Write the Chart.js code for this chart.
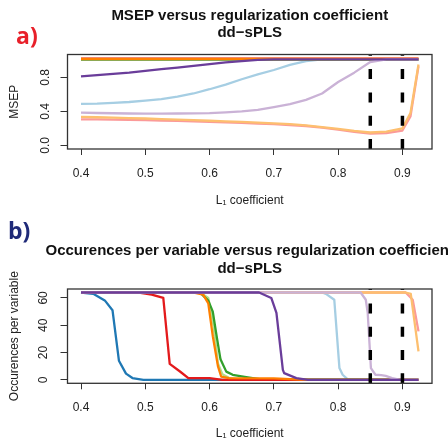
<!DOCTYPE html>
<html>
<head>
<meta charset="utf-8">
<script src="https://cdn.jsdelivr.net/npm/chart.js@4.4.0/dist/chart.umd.min.js"></script>
<style>
html, body { margin: 0; padding: 0; background: #fff; width: 448px; height: 439px; overflow: hidden; }
canvas { position: absolute; left: 0; }
#msepChart { top: 0; }
#occChart { top: 210px; }
</style>
</head>
<body>
<canvas id="msepChart" width="448" height="210"></canvas>
<canvas id="occChart" width="448" height="239"></canvas>
<script>
// ===== Data =====

var xTicks = [0.4, 0.5, 0.6, 0.7, 0.8, 0.9];
var cutoffs = [0.85, 0.9];

var msepTicks = [0, 0.2, 0.4, 0.6, 0.8, 1.0];
var msepTickLabels = ['0.0', '', '0.4', '', '0.8', ''];
var occTicks = [0, 10, 20, 30, 40, 50, 60];
var occTickLabels = ['0', '', '20', '', '40', '', '60'];

// MSEP panel: one shared x grid
var msepX = [0.4, 0.425, 0.45, 0.475, 0.5, 0.525, 0.55, 0.575, 0.6, 0.625, 0.65, 0.675, 0.7, 0.725, 0.75, 0.775, 0.8, 0.825, 0.85, 0.875, 0.9, 0.9125, 0.925];
var msepLightBlue   = [0.487, 0.49, 0.499, 0.51, 0.526, 0.545, 0.573, 0.61, 0.66, 0.715, 0.777, 0.835, 0.886, 0.945, 0.99, 1.01, 1.01, 1.01, 1.01, 1.01, 1.01, 1.01, 1.01];
var msepBlue        = [1.01, 1.01, 1.01, 1.01, 1.01, 1.01, 1.01, 1.01, 1.01, 1.01, 1.01, 1.01, 1.01, 1.01, 1.01, 1.01, 1.01, 1.01, 1.01, 1.01, 1.01, 1.01, 1.01];
var msepLightGreen  = [1.01, 1.01, 1.01, 1.01, 1.01, 1.01, 1.01, 1.01, 1.01, 1.01, 1.01, 1.01, 1.01, 1.01, 1.01, 1.01, 1.01, 1.01, 1.01, 1.01, 1.01, 1.01, 1.01];
var msepGreen       = [1.01, 1.01, 1.01, 1.01, 1.01, 1.01, 1.01, 1.01, 1.01, 1.01, 1.01, 1.01, 1.01, 1.01, 1.01, 1.01, 1.01, 1.01, 1.01, 1.01, 1.01, 1.01, 1.01];
var msepPink        = [0.307, 0.305, 0.302, 0.299, 0.296, 0.292, 0.288, 0.282, 0.276, 0.27, 0.264, 0.257, 0.249, 0.24, 0.228, 0.208, 0.185, 0.16, 0.14, 0.145, 0.175, 0.34, 0.93];
var msepRed         = [1.02, 1.02, 1.02, 1.02, 1.02, 1.02, 1.02, 1.02, 1.02, 1.02, 1.02, 1.02, 1.02, 1.02, 1.02, 1.02, 1.02, 1.02, 1.02, 1.02, 1.02, 1.02, 1.02];
var msepLightOrange = [0.335, 0.331, 0.326, 0.321, 0.316, 0.31, 0.304, 0.297, 0.29, 0.283, 0.276, 0.268, 0.259, 0.249, 0.236, 0.216, 0.194, 0.17, 0.152, 0.162, 0.2, 0.38, 0.95];
var msepOrange      = [1.015, 1.015, 1.015, 1.015, 1.015, 1.015, 1.015, 1.015, 1.015, 1.015, 1.015, 1.015, 1.015, 1.015, 1.015, 1.015, 1.015, 1.015, 1.015, 1.015, 1.015, 1.015, 1.015];
var msepLightPurple = [0.385, 0.381, 0.378, 0.375, 0.373, 0.373, 0.375, 0.377, 0.38, 0.388, 0.4, 0.418, 0.45, 0.485, 0.535, 0.61, 0.745, 0.855, 0.98, 1.01, 1.01, 1.01, 1.01];
var msepPurple      = [0.81, 0.825, 0.84, 0.855, 0.875, 0.895, 0.915, 0.935, 0.955, 0.975, 0.99, 1.005, 1.01, 1.01, 1.01, 1.01, 1.01, 1.01, 1.01, 1.01, 1.01, 1.01, 1.01];

// Occurrences panel: breakpoints per series
var occLightBlueX   = [0.4, 0.775, 0.781, 0.794, 0.802, 0.807, 0.815, 0.925];
var occLightBlueY   = [64, 64, 63, 58.7, 8.6, 3.7, 0.4, 0];
var occBlueX        = [0.4, 0.419, 0.437, 0.449, 0.459, 0.47, 0.48, 0.497, 0.925];
var occBlueY        = [64, 63, 58.2, 51, 14, 4.5, 1.3, 0, 0];
var occLightGreenX  = [0.4, 0.585, 0.598, 0.606, 0.613, 0.62, 0.63, 0.65, 0.925];
var occLightGreenY  = [64, 64, 60, 40, 12, 4, 1.5, 0, 0];
var occGreenX       = [0.4, 0.585, 0.598, 0.605, 0.611, 0.617, 0.626, 0.636, 0.657, 0.68, 0.925];
var occGreenY       = [64, 64, 58, 50, 32, 15, 6, 3.7, 2, 0.3, 0];
var occPinkX        = [0.4, 0.905, 0.916, 0.925];
var occPinkY        = [64, 64, 58.7, 35.5];
var occRedX         = [0.4, 0.49, 0.51, 0.528, 0.538, 0.554, 0.567, 0.6, 0.62, 0.925];
var occRedY         = [64, 64, 62.4, 60, 11.7, 6.1, 1.2, 1.2, 0, 0];
var occLightOrangeX = [0.4, 0.905, 0.913, 0.925];
var occLightOrangeY = [64, 64, 63, 20.8];
var occOrangeX      = [0.4, 0.574, 0.59, 0.598, 0.605, 0.613, 0.618, 0.63, 0.7, 0.75, 0.925];
var occOrangeY      = [64, 64, 62.4, 56, 32, 10, 2.4, 1.2, 1, 0, 0];
var occLightPurpleX = [0.4, 0.835, 0.843, 0.846, 0.851, 0.858, 0.867, 0.874, 0.884, 0.897, 0.925];
var occLightPurpleY = [64, 64, 58.7, 49, 8.6, 3.7, 3.5, 2.9, 1.2, 0, 0];
var occPurpleX      = [0.4, 0.677, 0.696, 0.704, 0.714, 0.716, 0.735, 0.753, 0.925];
var occPurpleY      = [64, 64, 60, 49, 7.3, 4.9, 1.2, 0, 0];

// RColorBrewer "Paired"
var pairedColors = ['#A6CEE3', '#1F78B4', '#B2DF8A', '#33A02C', '#FB9A99', '#E31A1C', '#FDBF6F', '#FF7F00', '#CAB2D6', '#6A3D9A'];

// ===== Helpers =====

var FONT = '"Liberation Sans", Arial, sans-serif';

function series(color, xs, ys) {
    var pts = [];
    for (var i = 0; i < xs.length; i++) pts.push({ x: xs[i], y: ys[i] });
    return {
        data: pts,
        borderColor: color,
        borderWidth: 2.3,
        pointRadius: 0,
        tension: 0,
        fill: false,
        borderJoinStyle: 'round'
    };
}

// first dataset is drawn on top in Chart.js, R drew the last one on top
function reversed(list) { return list.slice().reverse(); }

var decorPlugin = {
    id: 'decor',
    afterDatasetsDraw: function(chart, args, opts) {
        var ctx = chart.ctx;
        var area = chart.chartArea;
        var xs = chart.scales.x;
        ctx.save();
        ctx.beginPath();
        ctx.rect(area.left, area.top, area.right - area.left, area.bottom - area.top);
        ctx.clip();
        ctx.strokeStyle = '#000';
        ctx.lineWidth = 3.5;
        ctx.setLineDash([10, 13.3]);
        for (var i = 0; i < cutoffs.length; i++) {
            var px = xs.getPixelForValue(cutoffs[i]);
            ctx.beginPath();
            ctx.moveTo(px, area.bottom);
            ctx.lineTo(px, area.top);
            ctx.stroke();
        }
        ctx.restore();

        ctx.save();
        ctx.strokeStyle = '#333';
        ctx.lineWidth = 1.3;
        ctx.strokeRect(area.left, area.top, area.right - area.left, area.bottom - area.top);
        ctx.restore();
    },
    afterDraw: function(chart, args, opts) {
        var ctx = chart.ctx;
        var area = chart.chartArea;
        var cx = (area.left + area.right) / 2;
        ctx.save();
        ctx.fillStyle = '#111';
        ctx.font = 'bold 15px ' + FONT;
        ctx.textAlign = 'center';
        ctx.textBaseline = 'alphabetic';
        for (var i = 0; i < opts.titles.length; i++) {
            ctx.fillText(opts.titles[i], cx, opts.titleY[i]);
        }
        ctx.fillStyle = opts.tagColor;
        ctx.font = 'bold 23px "Open Sans", sans-serif';
        ctx.textAlign = 'left';
        ctx.fillText(opts.tag, opts.tagX, opts.tagY);
        ctx.restore();
    }
};

function axisOptions(cfg) {
    return {
        x: {
            type: 'linear',
            min: 0.379,
            max: 0.946,
            afterBuildTicks: function(scale) {
                scale.ticks = xTicks.map(function(v) { return { value: v }; });
            },
            afterFit: function(scale) { scale.height = cfg.xHeight; },
            ticks: {
                color: '#222',
                font: { family: FONT, size: 12 },
                padding: 11,
                maxRotation: 0,
                callback: function(v) { return v.toFixed(1); }
            },
            grid: { display: true, drawOnChartArea: false, drawTicks: true, tickLength: 6, color: '#333', lineWidth: 1 },
            border: { display: false },
            title: {
                display: true,
                text: 'L\u2081 coefficient',
                color: '#222',
                font: { family: FONT, size: 12 },
                padding: { top: 0, bottom: cfg.xTitlePad }
            }
        },
        y: {
            type: 'linear',
            min: cfg.yMin,
            max: cfg.yMax,
            afterBuildTicks: function(scale) {
                scale.ticks = cfg.yTicks.map(function(v) { return { value: v }; });
            },
            afterFit: function(scale) { scale.width = 67.5; },
            ticks: {
                color: '#222',
                font: { family: FONT, size: 12 },
                padding: cfg.yTickPad,
                minRotation: 90,
                maxRotation: 90,
                crossAlign: 'center',
                callback: function(v, i) { return cfg.yLabels[i]; }
            },
            grid: { display: true, drawOnChartArea: false, drawTicks: true, tickLength: 7, color: '#333', lineWidth: 1 },
            border: { display: false },
            title: {
                display: true,
                text: cfg.yTitle,
                color: '#222',
                font: { family: FONT, size: 12 },
                padding: { top: 7.8, bottom: 0 }
            }
        }
    };
}

// ===== a) MSEP =====

var msepSeries = [msepLightBlue, msepBlue, msepLightGreen, msepGreen, msepPink, msepRed, msepLightOrange, msepOrange, msepLightPurple, msepPurple];
var msepDatasets = msepSeries.map(function(ys, i) { return series(pairedColors[i], msepX, ys); });

new Chart(document.getElementById('msepChart'), {
    type: 'line',
    data: { datasets: reversed(msepDatasets) },
    options: {
        responsive: false,
        animation: false,
        layout: { autoPadding: false, padding: { top: 54.5, right: 16, bottom: 0, left: 0 } },
        plugins: {
            legend: { display: false },
            tooltip: { enabled: false },
            decor: {
                titles: ['MSEP versus regularization coefficient', 'dd\u2212sPLS'],
                titleY: [20, 37],
                tag: 'a)', tagColor: '#E8202A', tagX: 16, tagY: 43.5
            }
        },
        scales: axisOptions({
            yMin: -0.042, yMax: 1.068,
            yTicks: msepTicks, yLabels: msepTickLabels,
            yTitle: 'MSEP', yTickPad: 6,
            xHeight: 61, xTitlePad: 1.8
        })
    },
    plugins: [decorPlugin]
});

// ===== b) Occurrences per variable =====

var occDatasets = [
    series(pairedColors[0], occLightBlueX, occLightBlueY),
    series(pairedColors[1], occBlueX, occBlueY),
    series(pairedColors[2], occLightGreenX, occLightGreenY),
    series(pairedColors[3], occGreenX, occGreenY),
    series(pairedColors[4], occPinkX, occPinkY),
    series(pairedColors[5], occRedX, occRedY),
    series(pairedColors[6], occLightOrangeX, occLightOrangeY),
    series(pairedColors[7], occOrangeX, occOrangeY),
    series(pairedColors[8], occLightPurpleX, occLightPurpleY),
    series(pairedColors[9], occPurpleX, occPurpleY)
];

new Chart(document.getElementById('occChart'), {
    type: 'line',
    data: { datasets: reversed(occDatasets) },
    options: {
        responsive: false,
        animation: false,
        layout: { autoPadding: false, padding: { top: 79, right: 16, bottom: 0, left: 0 } },
        plugins: {
            legend: { display: false },
            tooltip: { enabled: false },
            decor: {
                titles: ['Occurences per variable versus regularization coefficient', 'dd\u2212sPLS'],
                titleY: [45, 63],
                tag: 'b)', tagColor: '#1F2A78', tagX: 8, tagY: 29
            }
        },
        scales: axisOptions({
            yMin: -2.56, yMax: 66.56,
            yTicks: occTicks, yLabels: occTickLabels,
            yTitle: 'Occurences per variable', yTickPad: 10,
            xHeight: 65.7, xTitlePad: 7.8
        })
    },
    plugins: [decorPlugin]
});
</script>
</body>
</html>
